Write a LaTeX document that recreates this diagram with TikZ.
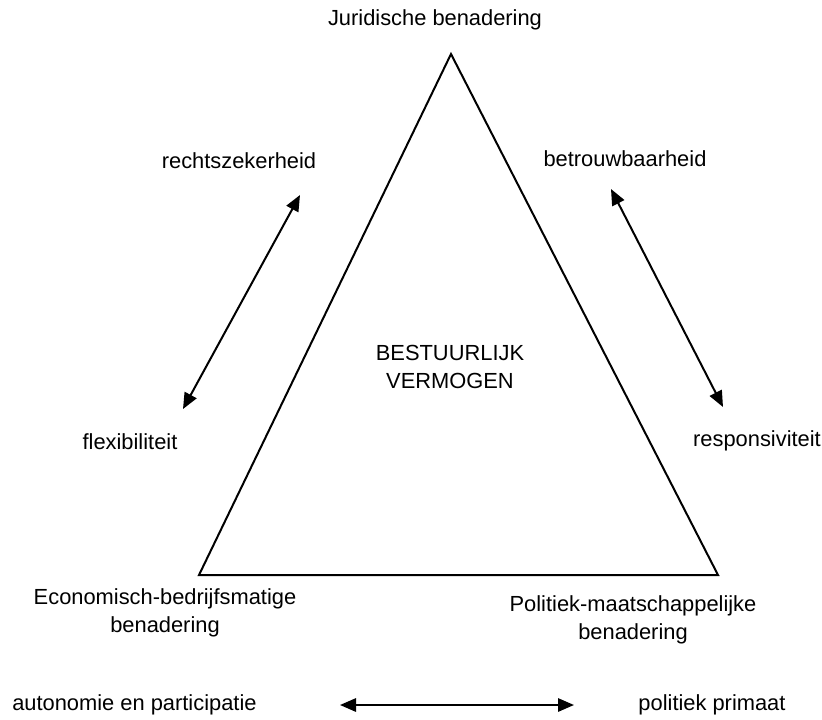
\documentclass[tikz,border=0pt]{standalone}
\usepackage{fontspec}
\setmainfont{Liberation Sans}
\usetikzlibrary{positioning,arrows.meta}

\begin{document}
\begin{tikzpicture}[x=0.75pt,y=-0.75pt,
    txt/.style={font=\fontsize{16.4}{21}\selectfont,inner sep=0pt,align=center},
    side/.style={line width=1.5pt,line join=miter},
    pair/.style={line width=1.5pt,{Triangle[length=12pt,width=10pt]}-{Triangle[length=12pt,width=10pt]}}]
\useasboundingbox (0,0) rectangle (822,719);
% driehoek van de drie benaderingen
\coordinate (top) at (451,54);
\coordinate (bl) at (199,575);
\coordinate (br) at (718,575);
\draw[side] (top) -- (bl) -- (br) -- cycle;
\node[txt] (jur) at (435,20) {Juridische benadering};
\node[txt] (eco) at (165,613) {Economisch-bedrijfsmatige\\benadering};
\node[txt] (pol) at (633,620) {Politiek-maatschappelijke\\benadering};
\node[txt] (mid) at (450,367) {BESTUURLIJK\\VERMOGEN};
% spanningen
\node[txt] (recht) at (239,161) {rechtszekerheid};
\node[txt] (flex) at (130,442) {flexibiliteit};
\coordinate (l1) at (300,195);
\coordinate (l2) at (183,409);
\draw[pair] (l1) -- (l2);
\node[txt] (betr) at (625,159) {betrouwbaarheid};
\node[txt] (resp) at (757,441) {responsiviteit};
\coordinate (r1) at (611,189);
\coordinate (r2) at (723,407);
\draw[pair] (r1) -- (r2);
\node[txt,anchor=west] (auto) at (12,705) {autonomie en participatie};
\node[txt] (prim) at (712,705) {politiek primaat};
\coordinate (b1) at (340,705);
\coordinate (b2) at (574,705);
\draw[pair] (b1) -- (b2);
\end{tikzpicture}
\end{document}
